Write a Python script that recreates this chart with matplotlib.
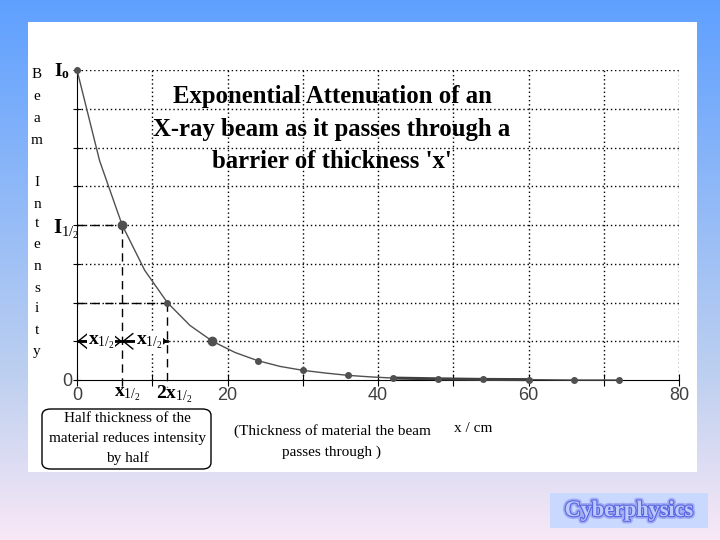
import numpy as np
import matplotlib
matplotlib.use("Agg")
import matplotlib.pyplot as plt
from matplotlib.patches import Rectangle, FancyBboxPatch
import matplotlib.patheffects as pe

plt.rcParams['mathtext.fontset'] = 'custom'
plt.rcParams['mathtext.rm'] = 'Liberation Serif'
plt.rcParams['mathtext.it'] = 'Liberation Serif'
plt.rcParams['mathtext.bf'] = 'Liberation Serif:bold'

SERIF = 'Liberation Serif'
SANS = 'Liberation Sans'

# data (x in cm, intensity in grid units, I0 = 8)
x_pts = [0, 6, 12, 18, 24, 30, 36, 42, 48, 54, 60, 66, 72]
i_pts = [8, 4, 2, 1, 0.5, 0.25, 0.12, 0.06, 0.03, 0.015, 0.01, 0.0, 0.0]
# curve traced at 3 cm steps
x_curve = [0, 3, 6, 9, 12, 15, 18, 21, 24, 27, 30, 33, 36, 39, 42, 48, 54, 60, 66, 72]
i_curve = [8, 5.66, 4, 2.83, 2, 1.41, 1, 0.71, 0.5, 0.35, 0.25, 0.18, 0.12, 0.08, 0.05,
           0.03, 0.015, 0.01, 0.0, 0.0]

x_ticks = [0, 20, 40, 60, 80]
x_half = 6
ylabel = "Beam Intensity"
title_lines = ["Exponential Attenuation of an",
               "X-ray beam as it passes through a",
               "barrier of thickness 'x'"]

fig = plt.figure(figsize=(7.2, 5.4), dpi=100)

# gradient background
bg = fig.add_axes([0, 0, 1, 1])
top = np.array([95, 160, 255]) / 255
mid = np.array([190, 208, 240]) / 255
bot = np.array([248, 232, 246]) / 255
t = np.linspace(0, 1, 300)[:, None]
grad = np.where(t < 0.7, top + (mid - top) * (t / 0.7), mid + (bot - mid) * ((t - 0.7) / 0.3))
bg.imshow(grad[:, None, :], aspect='auto', extent=[0, 1, 0, 1], origin='upper')
bg.set_xlim(0, 1)
bg.set_ylim(0, 1)
bg.axis('off')

W, H = 720, 540


def fx(px):
    return px / W


def fy(py):
    return 1 - py / H


# white panel
bg.add_patch(Rectangle((fx(28), fy(472)), fx(697) - fx(28), fy(22) - fy(472),
                       facecolor='white', edgecolor='none'))

# logo
bg.add_patch(Rectangle((fx(550), fy(528)), fx(708) - fx(550), fy(493) - fy(528),
                       facecolor='#c8d8ff', edgecolor='none'))
bg.text(fx(629), fy(511), "Cyberphysics", family=SERIF, fontweight='bold', fontsize=16,
        color='#bccaff', ha='center', va='center',
        path_effects=[pe.withStroke(linewidth=4, foreground='#a0aaf4'),
                      pe.withStroke(linewidth=1.6, foreground='#5a66e0')])

ax = fig.add_axes([fx(77), fy(380), fx(679) - fx(77), fy(70) - fy(380)])
ax.set_xlim(0, 80)
ax.set_ylim(0, 8)
ax.patch.set_alpha(0)

for v in range(10, 90, 10):
    ax.plot([v, v], [0, 8], color='black', lw=1, ls=(0, (1, 2)), zorder=1)
for v in range(1, 9):
    ax.plot([0, 80], [v, v], color='black', lw=1, ls=(0, (1, 2)), zorder=1)

for s in ['top', 'right']:
    ax.spines[s].set_visible(False)
ax.spines['left'].set_color('black')
ax.spines['bottom'].set_color('black')
ax.set_xticks(range(0, 90, 10))
ax.set_xticklabels(['0', '', '20', '', '40', '', '60', '', '80'])
ax.set_yticks(range(0, 9))
ax.set_yticklabels(['0'] + [''] * 8)
ax.tick_params(axis='x', direction='inout', length=8, color='black', pad=1,
               labelsize=13, labelcolor='#404040')
ax.tick_params(axis='y', direction='inout', length=6, color='black', pad=0,
               labelsize=13, labelcolor='#404040')
for lab in ax.get_xticklabels() + ax.get_yticklabels():
    lab.set_family(SANS)

# curve and points
ax.plot(x_curve, i_curve, color='#505050', lw=1, zorder=3, clip_on=False)
ax.plot(x_curve[-6:-2], i_curve[-6:-2], color='#404040', lw=2.2, zorder=3, clip_on=False)
ax.plot(x_pts, i_pts, 'o', color='#505050', ms=4, zorder=4, clip_on=False)
ax.plot([x_pts[1], x_pts[3]], [i_pts[1], i_pts[3]], 'o', color='#505050', ms=6,
        zorder=4, clip_on=False)

# half-value construction lines
dash = (0, (6, 4))
ax.plot([0, x_half], [4, 4], color='black', lw=1, ls=dash, zorder=2)
ax.plot([0, 2 * x_half], [2, 2], color='black', lw=1, ls=dash, zorder=2)
ax.plot([x_half, x_half], [4, -0.22], color='black', lw=1, ls=dash, zorder=2, clip_on=False)
ax.plot([2 * x_half, 2 * x_half], [2, -0.18], color='black', lw=1, ls=dash, zorder=2,
        clip_on=False)

# double arrows at I = 1: thick shaft, thin open heads
ax.plot([0, 2 * x_half], [1, 1], color='black', lw=2, zorder=5)
for a, b in [(0, x_half), (x_half, 2 * x_half)]:
    ax.annotate('', xy=(a, 1), xytext=(b, 1),
                arrowprops=dict(arrowstyle='<->,head_length=0.35,head_width=0.28', lw=1,
                                color='black', shrinkA=0, shrinkB=0, mutation_scale=20),
                zorder=5)
ax.text(3.2, 1, r'$\mathbf{x}_{1/_2}$', fontsize=14, ha='center', va='center',
        bbox=dict(facecolor='white', edgecolor='none', pad=0.5), zorder=6)
ax.text(9.6, 1, r'$\mathbf{x}_{1/_2}$', fontsize=14, ha='center', va='center',
        bbox=dict(facecolor='white', edgecolor='none', pad=0.5), zorder=6)

# labels under the axis
ax.text(6.7, -0.1, r'$\mathbf{x}_{1/_2}$', fontsize=14, ha='center', va='top',
        clip_on=False)
ax.text(12.9, -0.1, r'$\mathbf{2x}_{1/_2}$', fontsize=14, ha='center',
        va='top', clip_on=False)

# y labels I0 and I1/2
fig.text(fx(62), fy(71), r'$\mathbf{I}_\mathbf{o}$', fontsize=14, ha='center', va='center')
fig.text(fx(66), fy(229), r'$\mathbf{I}_{1/_2}$', fontsize=15, ha='center', va='center')

# stacked y-axis label
ys = [75, 96, 118, 140, None, 183, 204, 224, 245, 267, 288, 309, 330, 351]
for ch, py in zip(ylabel, ys):
    if ch == ' ':
        continue
    fig.text(fx(37), fy(py), ch, family=SERIF, fontsize=11, ha='center', va='center')

# title
for k, line in enumerate(title_lines):
    fig.text(fx(332), fy(97 + 32.5 * k), line, family=SERIF, fontweight='bold',
             fontsize=17.8, ha='center', va='center')

# note box
box = FancyBboxPatch((fx(42), fy(469)), fx(211) - fx(42), fy(409) - fy(469),
                     boxstyle='round,pad=0,rounding_size=0.012', transform=fig.transFigure,
                     facecolor='white', edgecolor='black', lw=1)
fig.patches.append(box)
for k, line in enumerate(["Half thickness of the", "material reduces intensity", "by half"]):
    fig.text(fx(127), fy(419 + 19.5 * k), line, family=SERIF, fontsize=11,
             ha='center', va='center')

for k, line in enumerate(["(Thickness of material the beam", "passes through )"]):
    fig.text(fx(332), fy(431 + 21 * k), line, family=SERIF, fontsize=11,
             ha='center', va='center')
fig.text(fx(473), fy(428), "x / cm", family=SERIF, fontsize=11, ha='center', va='center')

fig.savefig('out.png', dpi=100)
